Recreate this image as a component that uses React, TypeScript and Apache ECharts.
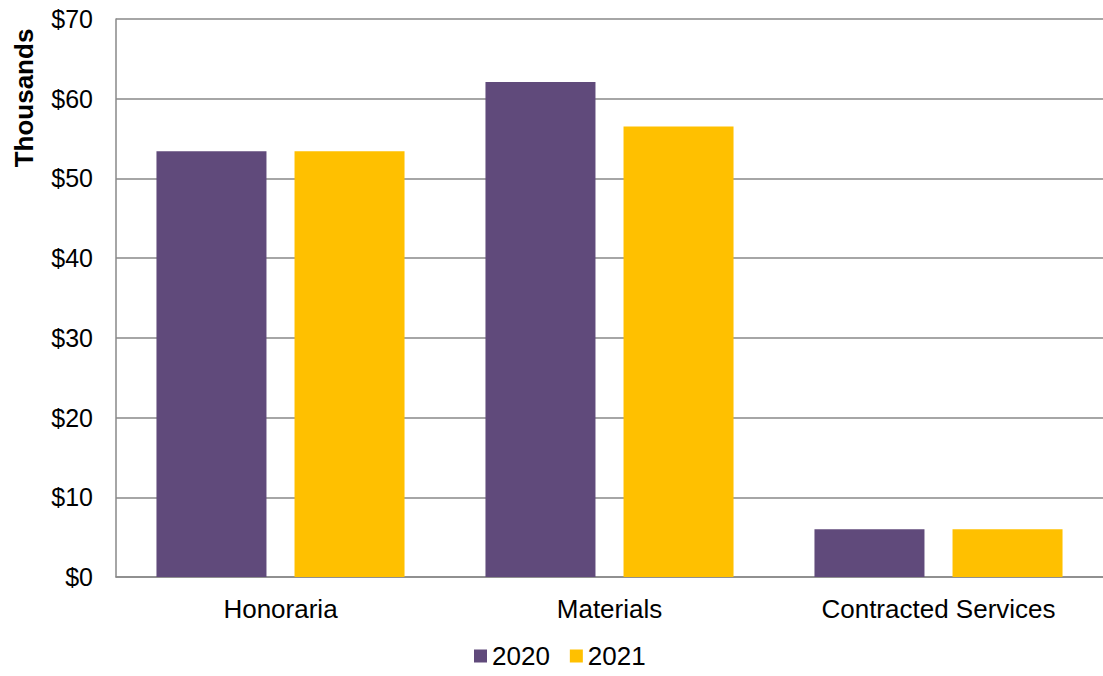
import React, { useEffect, useRef } from "react";
import * as echarts from "echarts";

const categories = ["Honoraria", "Materials", "Contracted Services"];
const values2020 = [53.4, 62.1, 6.0];
const values2021 = [53.4, 56.5, 6.0];
const seriesNames = ["2020", "2021"];
const yTicks = [0, 10, 20, 30, 40, 50, 60, 70];

const FONT = "'Liberation Sans', Arial, sans-serif";

export default function App() {
  const ref = useRef<HTMLDivElement>(null);

  useEffect(() => {
    if (!ref.current) return;
    const chart = echarts.init(ref.current, undefined, { renderer: "svg" });
    chart.setOption({
      animation: false,
      backgroundColor: "#ffffff",
      textStyle: { fontFamily: FONT },
      grid: { left: 116, top: 19, width: 993, height: 558, containLabel: false },
      legend: {
        data: seriesNames,
        bottom: 2,
        left: 469,
        itemWidth: 13,
        itemHeight: 13,
        itemGap: 20,
        icon: "rect",
        textStyle: { fontSize: 26, color: "#000", fontFamily: FONT, padding: [0, 0, 0, 0] },
      },
      xAxis: {
        type: "category",
        data: categories,
        axisLine: { show: true, lineStyle: { color: "#898989", width: 1.5 } },
        axisTick: { show: false },
        axisLabel: { fontSize: 26, color: "#000", margin: 19, fontFamily: FONT },
      },
      yAxis: {
        type: "value",
        min: yTicks[0],
        max: yTicks[yTicks.length - 1],
        interval: 10,
        axisLine: { show: true, lineStyle: { color: "#898989", width: 1.5 } },
        axisTick: { show: false },
        splitLine: { show: true, lineStyle: { color: "#898989", width: 1.5 } },
        axisLabel: {
          fontSize: 25,
          color: "#000",
          margin: 23,
          fontFamily: FONT,
          formatter: (v: number) => "$" + v,
        },
      },
      graphic: [
        {
          type: "text",
          x: 24,
          y: 98,
          rotation: Math.PI / 2,
          style: {
            text: "Thousands",
            fontSize: 26,
            fontWeight: "bold",
            fontFamily: FONT,
            fill: "#000",
            textAlign: "center",
            textVerticalAlign: "middle",
          },
        },
      ],
      series: [
        {
          name: seriesNames[0],
          type: "bar",
          data: values2020,
          barGap: "25.5%",
          barCategoryGap: "24.6%",
          itemStyle: { color: "#604A7B" },
        },
        {
          name: seriesNames[1],
          type: "bar",
          data: values2021,
          barGap: "25.5%",
          barCategoryGap: "24.6%",
          itemStyle: { color: "#FFC000" },
        },
      ],
    });
    return () => chart.dispose();
  }, []);

  return (
    <div
      ref={ref}
      style={{ position: "fixed", left: 0, top: 0, width: 1103, height: 676 }}
    />
  );
}
